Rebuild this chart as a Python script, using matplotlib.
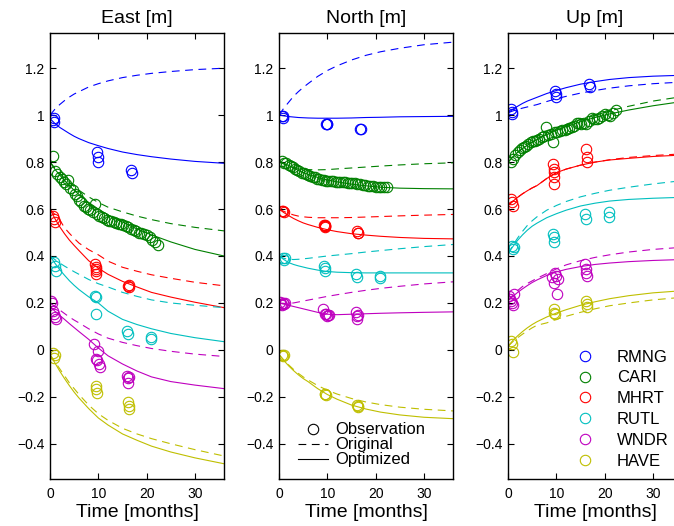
import matplotlib
matplotlib.use("Agg")
import matplotlib.pyplot as plt
from matplotlib.lines import Line2D
from matplotlib.ticker import FuncFormatter, FixedLocator

plt.rcParams['font.family'] = ['Liberation Sans', 'DejaVu Sans']

# ---------------- data ----------------
stations = ["RMNG", "CARI", "MHRT", "RUTL", "WNDR", "HAVE"]
colors = ["#0000ff", "#008000", "#ff0000", "#00bfbf", "#bf00bf", "#bfbf00"]
components = ["East [m]", "North [m]", "Up [m]"]

# model curve sample times (months)
tc = [0, 1, 2, 3, 4, 5, 6, 8, 10, 12, 15, 18, 21, 25, 30, 36]

# ---- East model curves ----
east_orig = {
    "RMNG": [1.0, 1.025, 1.045, 1.062, 1.077, 1.09, 1.10, 1.12, 1.134, 1.146, 1.16, 1.17, 1.178, 1.186, 1.194, 1.20],
    "CARI": [0.8, 0.775, 0.752, 0.732, 0.713, 0.696, 0.68, 0.652, 0.628, 0.608, 0.588, 0.57, 0.555, 0.538, 0.522, 0.507],
    "MHRT": [0.60, 0.577, 0.555, 0.52, 0.497, 0.475, 0.455, 0.427, 0.405, 0.378, 0.352, 0.335, 0.32, 0.305, 0.288, 0.273],
    "RUTL": [0.40, 0.385, 0.37, 0.357, 0.345, 0.333, 0.322, 0.30, 0.282, 0.268, 0.245, 0.228, 0.213, 0.20, 0.19, 0.18],
    "WNDR": [0.20, 0.185, 0.17, 0.155, 0.14, 0.127, 0.115, 0.09, 0.068, 0.05, 0.032, 0.018, 0.006, -0.006, -0.018, -0.028],
    "HAVE": [-0.02, -0.05, -0.08, -0.11, -0.14, -0.165, -0.19, -0.235, -0.272, -0.30, -0.334, -0.358, -0.378, -0.40, -0.425, -0.452],
}
east_opt = {
    "RMNG": [0.985, 0.965, 0.948, 0.935, 0.922, 0.91, 0.90, 0.883, 0.87, 0.858, 0.843, 0.832, 0.823, 0.813, 0.803, 0.795],
    "CARI": [0.80, 0.77, 0.745, 0.722, 0.70, 0.68, 0.662, 0.628, 0.60, 0.575, 0.545, 0.515, 0.49, 0.46, 0.428, 0.40],
    "MHRT": [0.60, 0.56, 0.525, 0.495, 0.468, 0.445, 0.423, 0.38, 0.348, 0.322, 0.292, 0.268, 0.245, 0.225, 0.203, 0.18],
    "RUTL": [0.40, 0.37, 0.342, 0.318, 0.295, 0.275, 0.257, 0.226, 0.20, 0.165, 0.13, 0.108, 0.09, 0.07, 0.052, 0.035],
    "WNDR": [0.185, 0.165, 0.147, 0.13, 0.112, 0.095, 0.078, 0.045, 0.008, -0.025, -0.06, -0.09, -0.115, -0.135, -0.15, -0.165],
    "HAVE": [-0.02, -0.055, -0.09, -0.122, -0.152, -0.18, -0.205, -0.25, -0.29, -0.32, -0.358, -0.385, -0.41, -0.435, -0.46, -0.485],
}
# ---- North model curves ----
north_orig = {
    "RMNG": [1.0, 1.03, 1.055, 1.08, 1.10, 1.118, 1.134, 1.165, 1.19, 1.21, 1.235, 1.255, 1.27, 1.285, 1.30, 1.311],
    "CARI": [0.80, 0.792, 0.785, 0.778, 0.773, 0.77, 0.768, 0.767, 0.768, 0.771, 0.775, 0.779, 0.783, 0.788, 0.793, 0.797],
    "MHRT": [0.60, 0.59, 0.582, 0.575, 0.57, 0.567, 0.565, 0.563, 0.563, 0.563, 0.564, 0.566, 0.568, 0.571, 0.574, 0.577],
    "RUTL": [0.40, 0.39, 0.386, 0.385, 0.386, 0.388, 0.39, 0.395, 0.40, 0.404, 0.41, 0.417, 0.423, 0.431, 0.44, 0.449],
    "WNDR": [0.20, 0.198, 0.198, 0.20, 0.204, 0.208, 0.212, 0.22, 0.228, 0.235, 0.245, 0.254, 0.262, 0.271, 0.281, 0.29],
    "HAVE": [-0.02, -0.043, -0.064, -0.083, -0.10, -0.115, -0.128, -0.152, -0.172, -0.188, -0.207, -0.222, -0.233, -0.244, -0.253, -0.26],
}
north_opt = {
    "RMNG": [1.0, 0.997, 0.994, 0.992, 0.99, 0.989, 0.988, 0.987, 0.987, 0.987, 0.988, 0.99, 0.991, 0.993, 0.994, 0.995],
    "CARI": [0.805, 0.795, 0.785, 0.775, 0.765, 0.756, 0.748, 0.735, 0.724, 0.716, 0.706, 0.699, 0.693, 0.689, 0.687, 0.686],
    "MHRT": [0.60, 0.585, 0.572, 0.56, 0.55, 0.541, 0.534, 0.522, 0.512, 0.504, 0.495, 0.489, 0.484, 0.479, 0.475, 0.473],
    "RUTL": [0.40, 0.385, 0.372, 0.364, 0.358, 0.353, 0.348, 0.34, 0.334, 0.331, 0.329, 0.328, 0.328, 0.328, 0.328, 0.328],
    "WNDR": [0.20, 0.195, 0.19, 0.185, 0.18, 0.175, 0.17, 0.16, 0.152, 0.15, 0.152, 0.154, 0.156, 0.158, 0.16, 0.162],
    "HAVE": [-0.02, -0.045, -0.068, -0.088, -0.106, -0.122, -0.135, -0.165, -0.19, -0.21, -0.235, -0.252, -0.265, -0.277, -0.287, -0.293],
}
# ---- Up model curves ----
up_orig = {
    "RMNG": [1.01, 1.018, 1.024, 1.03, 1.035, 1.04, 1.045, 1.058, 1.07, 1.08, 1.094, 1.105, 1.115, 1.125, 1.134, 1.141],
    "CARI": [0.80, 0.822, 0.842, 0.858, 0.872, 0.886, 0.898, 0.92, 0.94, 0.958, 0.982, 1.0, 1.018, 1.038, 1.06, 1.079],
    "MHRT": [0.615, 0.633, 0.65, 0.665, 0.678, 0.69, 0.70, 0.73, 0.755, 0.77, 0.787, 0.80, 0.81, 0.82, 0.828, 0.835],
    "RUTL": [0.41, 0.445, 0.477, 0.505, 0.53, 0.55, 0.567, 0.595, 0.615, 0.632, 0.652, 0.667, 0.68, 0.693, 0.707, 0.721],
    "WNDR": [0.21, 0.232, 0.253, 0.27, 0.283, 0.294, 0.305, 0.325, 0.345, 0.362, 0.38, 0.394, 0.405, 0.417, 0.428, 0.437],
    "HAVE": [0.015, 0.035, 0.052, 0.067, 0.081, 0.094, 0.105, 0.115, 0.13, 0.143, 0.16, 0.175, 0.188, 0.20, 0.213, 0.224],
}
up_opt = {
    "RMNG": [1.01, 1.025, 1.038, 1.05, 1.06, 1.068, 1.076, 1.092, 1.105, 1.117, 1.132, 1.143, 1.152, 1.16, 1.166, 1.17],
    "CARI": [0.80, 0.822, 0.842, 0.858, 0.872, 0.885, 0.896, 0.917, 0.935, 0.951, 0.972, 0.99, 1.005, 1.022, 1.04, 1.058],
    "MHRT": [0.615, 0.633, 0.65, 0.665, 0.678, 0.69, 0.70, 0.73, 0.755, 0.77, 0.787, 0.80, 0.809, 0.816, 0.824, 0.83],
    "RUTL": [0.41, 0.44, 0.467, 0.49, 0.51, 0.527, 0.54, 0.563, 0.58, 0.595, 0.613, 0.625, 0.634, 0.641, 0.646, 0.65],
    "WNDR": [0.21, 0.228, 0.245, 0.26, 0.274, 0.287, 0.298, 0.317, 0.332, 0.343, 0.355, 0.364, 0.37, 0.376, 0.381, 0.385],
    "HAVE": [0.015, 0.04, 0.06, 0.078, 0.094, 0.108, 0.12, 0.14, 0.157, 0.171, 0.19, 0.205, 0.218, 0.231, 0.243, 0.252],
}

# ---- observations ----
rmng_t = [0.7, 0.8, 0.9, 9.8, 9.9, 10.0, 16.8, 16.9]
rmng_e = [0.98, 0.97, 0.99, 0.842, 0.821, 0.80, 0.768, 0.754]
rmng_n = [0.998, 0.987, 0.995, 0.963, 0.963, 0.963, 0.942, 0.942]
rmng_u = [1.027, 1.013, 1.005, 1.105, 1.091, 1.077, 1.134, 1.119]

cari_t = [0.6, 1.1, 1.5, 2.0, 2.4, 2.9, 3.3, 3.8, 4.2, 4.7, 5.1, 5.6, 6.0, 6.5, 7.0,
          7.4, 7.9, 8.3, 8.8, 9.3, 9.7, 10.2, 10.7, 11.2, 11.7, 12.2, 12.7, 13.2, 13.7, 14.2,
          14.7, 15.2, 15.7, 16.2, 16.8, 17.3, 17.8, 18.4, 18.9, 19.5, 20.1, 20.6, 21.2, 21.8, 22.4]
cari_e = [0.825, 0.76, 0.75, 0.735, 0.728, 0.715, 0.705, 0.722, 0.69, 0.68, 0.665, 0.655, 0.64, 0.628, 0.612,
          0.607, 0.60, 0.598, 0.588, 0.622, 0.578, 0.572, 0.566, 0.562, 0.555, 0.55, 0.548, 0.545, 0.54, 0.538,
          0.535, 0.532, 0.527, 0.522, 0.515, 0.51, 0.505, 0.50, 0.498, 0.493, 0.488, 0.482, 0.47, 0.46, 0.445]
cari_n = [0.806, 0.798, 0.795, 0.788, 0.783, 0.778, 0.772, 0.765, 0.76, 0.755, 0.752, 0.748, 0.745, 0.742, 0.738,
          0.735, 0.73, 0.728, 0.725, 0.723, 0.721, 0.72, 0.72, 0.718, 0.717, 0.717, 0.716, 0.715, 0.714, 0.713,
          0.712, 0.71, 0.709, 0.707, 0.705, 0.704, 0.702, 0.70, 0.698, 0.697, 0.695, 0.694, 0.693, 0.693, 0.692]
cari_u = [0.80, 0.815, 0.83, 0.842, 0.85, 0.86, 0.865, 0.87, 0.878, 0.885, 0.888, 0.892, 0.895, 0.90, 0.905,
          0.91, 0.948, 0.915, 0.92, 0.885, 0.927, 0.93, 0.932, 0.935, 0.938, 0.94, 0.945, 0.95, 0.955, 0.968,
          0.965, 0.962, 0.965, 0.963, 0.975, 0.99, 0.982, 0.984, 0.99, 0.995, 1.006, 1.0, 0.998, 1.01, 1.02]

mhrt_t = [0.6, 0.8, 1.0, 9.4, 9.5, 9.5, 9.6, 9.6, 16.2, 16.3, 16.3]
mhrt_e = [0.572, 0.558, 0.544, 0.365, 0.352, 0.335, 0.322, 0.345, 0.272, 0.27, 0.275]
mhrt_n = [0.593, 0.59, 0.588, 0.533, 0.526, 0.53, 0.524, 0.528, 0.508, 0.497, 0.50]
mhrt_u = [0.643, 0.629, 0.614, 0.792, 0.771, 0.757, 0.736, 0.707, 0.856, 0.821, 0.80]

rutl_t = [0.8, 1.0, 1.2, 9.4, 9.5, 9.6, 16.0, 16.1, 20.8, 20.9]
rutl_e = [0.374, 0.357, 0.336, 0.23, 0.152, 0.225, 0.081, 0.067, 0.053, 0.045]
rutl_n = [0.392, 0.385, 0.39, 0.357, 0.336, 0.35, 0.323, 0.309, 0.316, 0.305]
rutl_u = [0.444, 0.43, 0.437, 0.494, 0.48, 0.458, 0.578, 0.557, 0.586, 0.565]

wndr_t = [0.3, 0.5, 0.7, 0.9, 1.1, 1.3, 9.2, 9.5, 9.8, 10.0, 10.2, 10.4, 16.0, 16.1, 16.2, 16.3]
wndr_e = [0.21, 0.20, 0.165, 0.155, 0.14, 0.13, 0.024, -0.04, -0.045, -0.004, -0.06, -0.075, -0.111, -0.139, -0.12, -0.115]
wndr_n = [0.203, 0.196, 0.19, 0.2, 0.195, 0.198, 0.173, 0.152, 0.152, 0.145, 0.15, 0.148, 0.16, 0.145, 0.13, 0.15]
wndr_u = [0.229, 0.215, 0.208, 0.2, 0.193, 0.24, 0.309, 0.286, 0.329, 0.315, 0.237, 0.30, 0.366, 0.344, 0.329, 0.315]

have_t = [0.6, 0.8, 1.0, 9.5, 9.6, 9.7, 16.2, 16.3, 16.4]
have_e = [-0.012, -0.033, -0.02, -0.153, -0.168, -0.182, -0.224, -0.239, -0.253]
have_n = [-0.02, -0.025, -0.023, -0.187, -0.19, -0.192, -0.236, -0.24, -0.243]
have_u = [0.039, 0.025, -0.011, 0.173, 0.158, 0.152, 0.21, 0.196, 0.181]

obs_t = {"RMNG": rmng_t, "CARI": cari_t, "MHRT": mhrt_t, "RUTL": rutl_t, "WNDR": wndr_t, "HAVE": have_t}
obs = [
    {"RMNG": rmng_e, "CARI": cari_e, "MHRT": mhrt_e, "RUTL": rutl_e, "WNDR": wndr_e, "HAVE": have_e},
    {"RMNG": rmng_n, "CARI": cari_n, "MHRT": mhrt_n, "RUTL": rutl_n, "WNDR": wndr_n, "HAVE": have_n},
    {"RMNG": rmng_u, "CARI": cari_u, "MHRT": mhrt_u, "RUTL": rutl_u, "WNDR": wndr_u, "HAVE": have_u},
]
orig = [east_orig, north_orig, up_orig]
opt = [east_opt, north_opt, up_opt]

yticks = [-0.4, -0.2, 0, 0.2, 0.4, 0.6, 0.8, 1.0, 1.2]
xticks = [0, 10, 20, 30]

# ---------------- figure ----------------
W, H = 674, 526
fig = plt.figure(figsize=(W / 100, H / 100), dpi=100)
lefts = [50, 279, 508]
axw, top, bot = 174, 33, 479

def fmt(v, pos):
    s = "%g" % round(v, 3)
    return s.replace("-", "\u2212")

axes = []
for i, comp in enumerate(components):
    ax = fig.add_axes([lefts[i] / W, 1 - bot / H, axw / W, (bot - top) / H])
    axes.append(ax)
    for s, c in zip(stations, colors):
        ax.plot(tc, orig[i][s], color=c, lw=0.8, ls=(0, (7, 5)))
        ax.plot(tc, opt[i][s], color=c, lw=0.8, ls='-')
        ax.plot(obs_t[s], obs[i][s], ls='none', marker='o', ms=7.5, mfc='none',
                mec=c, mew=0.8)
    ax.set_xlim(0, 36)
    ax.set_ylim(-0.55, 1.35)
    ax.yaxis.set_major_locator(FixedLocator(yticks))
    ax.xaxis.set_major_locator(FixedLocator(xticks))
    ax.yaxis.set_major_formatter(FuncFormatter(fmt))
    ax.tick_params(direction='in', top=True, right=True, length=4, width=0.8,
                   labelsize=10, pad=4)
    ax.tick_params(axis='x', pad=6)
    for sp in ax.spines.values():
        sp.set_linewidth(1.0)
    ax.set_title(comp, fontsize=14, pad=7)
    ax.set_xlabel("Time [months]", fontsize=14, labelpad=2)

# legend in North panel
h1 = [Line2D([], [], ls='none', marker='o', ms=7.5, mfc='none', mec='k', mew=0.8),
      Line2D([], [], color='k', lw=0.8, ls=(0, (7, 5))),
      Line2D([], [], color='k', lw=0.8, ls='-')]
axes[1].legend(h1, ["Observation", "Original", "Optimized"], loc='lower left',
               bbox_to_anchor=(0.04, 0.0), frameon=False, fontsize=12,
               handlelength=1.8, handletextpad=0.45, labelspacing=0.0,
               borderaxespad=0.3)

# legend in Up panel
h2 = [Line2D([], [], ls='none', marker='o', ms=7.5, mfc='none', mec=c, mew=0.8) for c in colors]
axes[2].legend(h2, stations, loc='lower left', bbox_to_anchor=(0.278, -0.003),
               frameon=False, fontsize=12, handlelength=2.0, handletextpad=0.92,
               labelspacing=0.35, borderaxespad=0.3)

fig.savefig("out.png", dpi=100)
